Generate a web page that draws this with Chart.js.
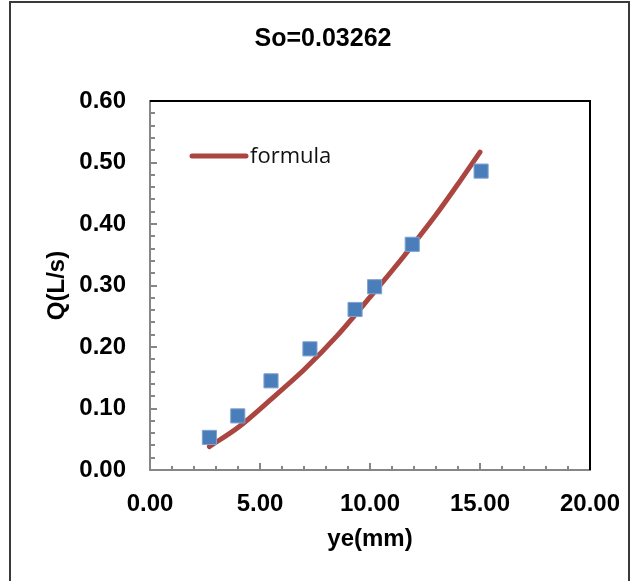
<!DOCTYPE html>
<html>
<head>
<meta charset="utf-8">
<script src="https://cdn.jsdelivr.net/npm/chart.js@4/dist/chart.umd.min.js"></script>
<style>
    body { margin: 0; overflow: hidden; background: #fff; }
    #frame { position: absolute; left: 9px; top: 1px; width: 621px; height: 640px; border: 2px solid #3a3a3a; box-sizing: border-box; }
    #myChart { position: absolute; left: 0; top: 0; }
</style>
</head>
<body>
<div id="frame"></div>
<canvas id="myChart" width="643" height="581"></canvas>
<script>
/** 实测点 */
var measuredYe = [2.70, 3.99, 5.50, 7.27, 9.32, 10.21, 11.92, 15.05]
var measuredQ = [0.053, 0.088, 0.145, 0.197, 0.261, 0.298, 0.367, 0.486]
/** 公式曲线 */
var formulaYe = [2.70, 4.00, 5.50, 7.00, 8.50, 10.00, 11.50, 13.00, 14.00, 15.00]
var formulaQ = [0.038, 0.069, 0.115, 0.163, 0.218, 0.281, 0.346, 0.415, 0.465, 0.517]
var xTicks = [0, 5, 10, 15, 20]
var yTicks = [0, 0.1, 0.2, 0.3, 0.4, 0.5, 0.6]
var chartTitle = 'So=0.03262'
var xTitle = 'ye(mm)'
var yTitle = 'Q(L/s)'
var seriesName = 'formula'

var qchart = {
    init: function () {
        qchart.funcs.createChart()
    },
    funcs: {
        toPoints: function (xs, ys) {
            return xs.map(function (x, i) { return {x: x, y: ys[i]} })
        },
        // excel 风格的内侧刻度 + 上右黑框
        frameTicks: {
            id: 'frameTicks',
            afterDatasetsDraw: function (chart) {
                var ctx = chart.ctx, a = chart.chartArea
                var xs = chart.scales.x, ys = chart.scales.y
                ctx.save()
                ctx.strokeStyle = '#868686'
                ctx.lineWidth = 2
                ctx.beginPath()
                for (var v = 0; v <= 20.001; v += 1) {
                    var px = Math.round(xs.getPixelForValue(v))
                    var len = (Math.round(v) % 5 === 0) ? 7 : 4
                    ctx.moveTo(px, a.bottom); ctx.lineTo(px, a.bottom - len)
                }
                for (var k = 0; k <= 30; k++) {
                    var py = Math.round(ys.getPixelForValue(k * 0.02))
                    var l2 = (k % 5 === 0) ? 7 : 5
                    ctx.moveTo(a.left, py); ctx.lineTo(a.left + l2, py)
                }
                ctx.stroke()
                ctx.strokeStyle = '#000'
                ctx.beginPath()
                ctx.moveTo(a.left, a.top); ctx.lineTo(a.right, a.top); ctx.lineTo(a.right, a.bottom)
                ctx.stroke()
                ctx.restore()
            }
        },
        // 图例放在绘图区内, 标题居中整张图
        innerLegend: {
            id: 'innerLegend',
            afterDraw: function (chart) {
                var ctx = chart.ctx
                var ds = chart.data.datasets[1]
                ctx.save()
                ctx.strokeStyle = ds.borderColor
                ctx.lineWidth = 5
                ctx.lineCap = 'round'
                ctx.beginPath()
                ctx.moveTo(192, 156); ctx.lineTo(246, 156)
                ctx.stroke()
                ctx.fillStyle = '#111'
                ctx.font = '22px "Open Sans", sans-serif'
                ctx.textBaseline = 'middle'
                ctx.fillText(ds.label, 250, 157)

                ctx.fillStyle = '#000'
                ctx.font = 'bold 25px "Liberation Sans", Arial, sans-serif'
                ctx.textAlign = 'center'
                ctx.fillText(chartTitle, 323, 39)
                ctx.restore()
            }
        },
        createChart: function () {
            var boldFont = {family: '"Liberation Sans", Arial, sans-serif', size: 24, weight: 'bold'}
            var ctx = document.getElementById('myChart').getContext('2d')
            new Chart(ctx, {
                type: 'scatter',
                data: {
                    datasets: [
                        {
                            label: 'measured',
                            data: qchart.funcs.toPoints(measuredYe, measuredQ),
                            pointStyle: 'rect',
                            pointRadius: 10,
                            backgroundColor: '#4a7ebb',
                            borderColor: '#7fa3d1',
                            borderWidth: 1,
                            showLine: false
                        },
                        {
                            label: seriesName,
                            data: qchart.funcs.toPoints(formulaYe, formulaQ),
                            showLine: true,
                            pointRadius: 0,
                            borderColor: '#ab4540',
                            borderWidth: 5,
                            borderCapStyle: 'round',
                            tension: 0.3
                        }
                    ]
                },
                options: {
                    responsive: false,
                    animation: false,
                    devicePixelRatio: 1,
                    layout: {padding: {left: 0, right: 53, top: 101, bottom: 0}},
                    plugins: {
                        legend: {display: false},
                        tooltip: {enabled: false},
                        title: {display: false}
                    },
                    scales: {
                        x: {
                            type: 'linear',
                            min: xTicks[0],
                            max: xTicks[xTicks.length - 1],
                            afterBuildTicks: function (s) { s.ticks = xTicks.map(function (v) { return {value: v} }) },
                            afterFit: function (s) { s.height = 111 },
                            grid: {display: false, drawTicks: false},
                            border: {color: '#868686', width: 2},
                            ticks: {
                                color: '#000', font: boldFont, padding: 20, maxRotation: 0,
                                callback: function (v) { return Number(v).toFixed(2) }
                            },
                            title: {display: true, text: xTitle, color: '#000', font: boldFont, padding: {top: 0, bottom: 27}}
                        },
                        y: {
                            type: 'linear',
                            min: yTicks[0],
                            max: yTicks[yTicks.length - 1],
                            afterBuildTicks: function (s) { s.ticks = yTicks.map(function (v) { return {value: v} }) },
                            afterFit: function (s) { s.width = 150 },
                            grid: {display: false, drawTicks: false},
                            border: {color: '#868686', width: 2},
                            ticks: {
                                color: '#000', font: boldFont, padding: 24,
                                callback: function (v) { return Number(v).toFixed(2) }
                            },
                            title: {display: true, text: yTitle, color: '#000', font: boldFont, padding: {top: 43, bottom: 0}}
                        }
                    }
                },
                plugins: [qchart.funcs.frameTicks, qchart.funcs.innerLegend]
            })
        }
    }
}

qchart.init()
</script>
</body>
</html>
